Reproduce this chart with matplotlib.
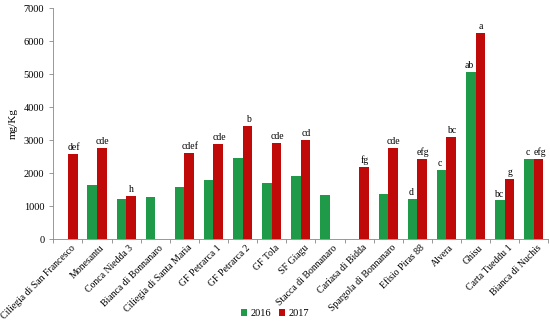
import matplotlib
matplotlib.use("Agg")
import matplotlib.pyplot as plt
import numpy as np

cultivars = ["Ciliegia di San Francesco", "Monesantu", "Conca Niedda 3",
             "Bianca di Bonnanaro", "Ciliegia di Santa Maria", "GF Petrarca 1",
             "GF Petrarca 2", "GF Tola", "SF Giagu", "Stacca di Bonnanaro",
             "Cariasa di Bidda", "Spargola di Bonnanaro", "Efisio Piras 88",
             "Alvera", "Ghisu", "Carta Tueddu 1", "Bianca di Nuchis"]
y2016 = [0, 1630, 1230, 1270, 1570, 1800, 2470, 1700, 1920, 1330,
         0, 1380, 1230, 2080, 5050, 1170, 2420]
y2017 = [2590, 2770, 1310, 0, 2610, 2880, 3430, 2900, 3010, 0,
         2180, 2760, 2440, 3080, 6260, 1810, 2430]
lab2016 = ["", "", "", "", "", "", "", "", "", "",
           "", "", "d", "c", "ab", "bc", "c"]
lab2017 = ["def", "cde", "h", "", "cdef", "cde", "b", "cde", "cd", "",
           "fg", "cde", "efg", "bc", "a", "g", "efg"]

plt.rcParams['font.family'] = ['Liberation Serif', 'DejaVu Serif']

fig = plt.figure(figsize=(5.5, 3.24), dpi=100)
ax = fig.add_axes([0.097, 0.262, 0.9, 0.713])

x = np.arange(len(cultivars))
w = 0.33
green = "#1f9a48"
red = "#c00a0a"
b1 = ax.bar(x - w / 2, y2016, w, color=green, label="2016")
b2 = ax.bar(x + w / 2, y2017, w, color=red, label="2017")

for xi, v, t in zip(x, y2016, lab2016):
    if t:
        ax.text(xi - w / 2 - 0.05, v + 60, t, ha="center", va="bottom", fontsize=7)
for xi, v, t in zip(x, y2017, lab2017):
    if t:
        ax.text(xi + w / 2 + 0.03, v + 60, t, ha="center", va="bottom", fontsize=7)

ax.set_xlim(-0.5, len(cultivars) - 0.5)
ax.set_ylim(0, 7000)
ax.set_yticks(range(0, 7001, 1000))
ax.set_ylabel("mg/Kg", fontsize=8)
ax.tick_params(axis="y", labelsize=7.5, length=3, width=0.6, color="#888888")

ax.set_xticks(x + 0.1)
ax.set_xticklabels(cultivars, rotation=45, ha="right", rotation_mode="anchor",
                   fontsize=7)
ax.tick_params(axis="x", length=0, pad=3)
ax.set_xticks(np.arange(-0.5, len(cultivars)), minor=True)
ax.tick_params(axis="x", which="minor", length=3, width=0.6, color="#888888")

for s in ["top", "right"]:
    ax.spines[s].set_visible(False)
for s in ["left", "bottom"]:
    ax.spines[s].set_color("#888888")
    ax.spines[s].set_linewidth(0.6)

fig.legend(handles=[b1, b2], loc="lower center", bbox_to_anchor=(0.5, -0.01),
           ncol=2, frameon=False, fontsize=7.5, handlelength=0.6,
           handleheight=0.6, handletextpad=0.3, columnspacing=0.8)

fig.savefig("out.png", dpi=100)
